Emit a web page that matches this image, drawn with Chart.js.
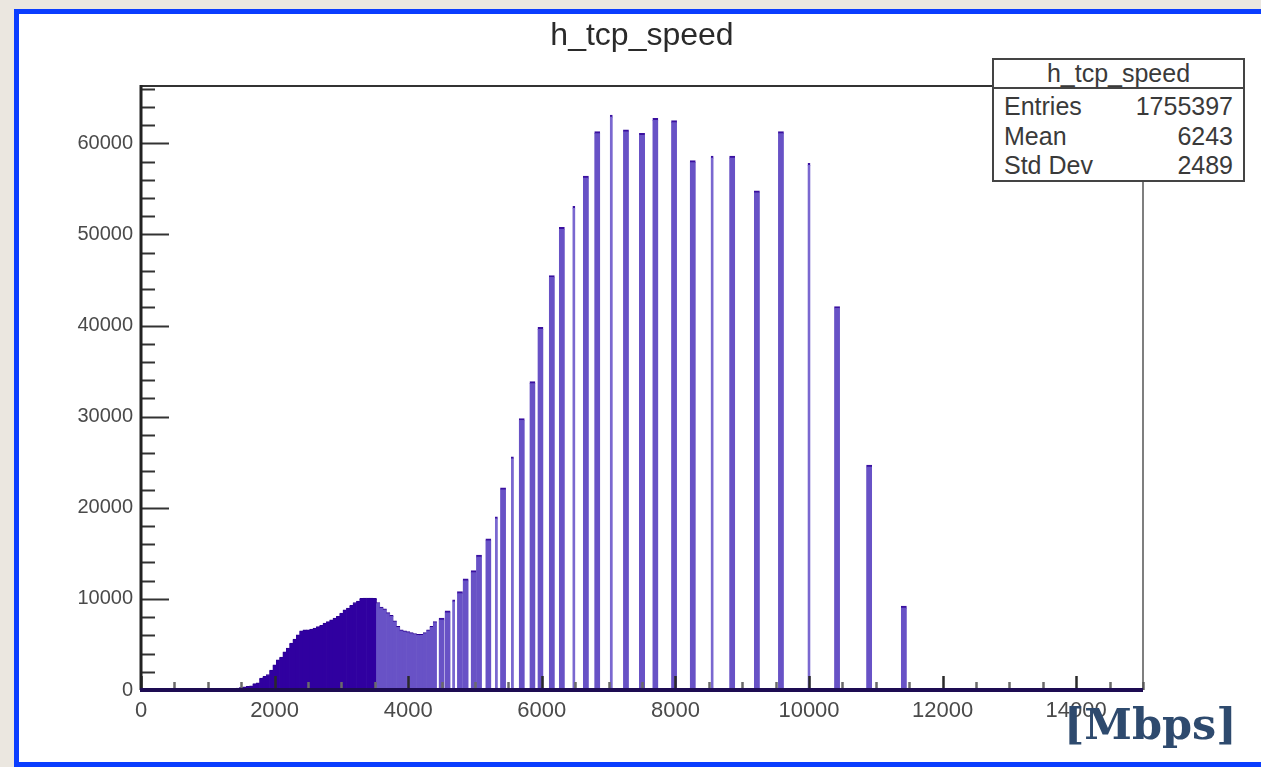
<!DOCTYPE html>
<html><head><meta charset="utf-8">
<script src="https://cdn.jsdelivr.net/npm/chart.js@4.4.1/dist/chart.umd.min.js"></script>
<style>
html,body{margin:0;padding:0}
body{width:1261px;height:767px;overflow:hidden;position:relative;background:#ebe7e0;font-family:"Liberation Sans",Arial,sans-serif}
#sheet{position:absolute;left:14px;top:9px;width:1300px;height:748px;background:#fff;border:5px solid #0a3dff;}
#wrap{position:absolute;left:0;top:0;width:1261px;height:767px}
#stats{position:absolute;left:992px;top:58px;width:253px;height:124px;box-sizing:border-box;border:2px solid #444;background:#fff;color:#3a3a3a;font-size:25px}
#stats .t{height:27px;line-height:27px;text-align:center;border-bottom:2px solid #444}
#stats .rows{padding-top:3px}
#stats .r{display:flex;justify-content:space-between;height:29.5px;line-height:29.5px;padding:0 10px}
#unit{position:absolute;left:1064px;top:694px;font-family:"DejaVu Serif",serif;font-weight:bold;font-size:43px;line-height:60px;color:#2e4a6e;white-space:nowrap}
</style></head>
<body>
<div id="sheet"></div>
<div id="wrap"><canvas id="c"></canvas></div>
<div id="stats">
  <div class="t">h_tcp_speed</div>
  <div class="rows">
    <div class="r"><span>Entries</span><span>1755397</span></div>
    <div class="r"><span>Mean</span><span>6243</span></div>
    <div class="r"><span>Std Dev</span><span>2489</span></div>
  </div>
</div>
<div id="unit">[Mbps]</div>
<script>
// ---- data (x in Mbps, y = entries) ----
const histTitle = 'h_tcp_speed';

// continuous region (50 Mbps bins)
const denseX = [1350,1400,1450,1500,1550,1600,1650,1700,1750,1800,1850,1900,1950,2000,2050,2100,2150,2200,2250,2300,2350,2400,2450,2500,2550,2600,2650,2700,2750,2800,2850,2900,2950,3000,3050,3100,3150,3200,3250,3300,3350,3400,3450,3500,3550,3600,3650,3700,3750,3800,3850,3900,3950,4000,4050,4100,4150,4200,4250,4300,4350,4400];
const denseY = [100,150,200,300,350,400,450,700,800,1300,1500,1700,2200,2750,3300,3600,4200,4600,5150,5600,6050,6500,6600,6600,6700,6800,6950,7100,7350,7500,7700,7900,8100,8450,8800,9000,9300,9600,9750,10050,10100,10100,10100,10050,9600,9100,8900,8500,8200,7600,7000,6600,6500,6400,6300,6200,6100,6100,6300,6600,7000,7500];

// wide spikes
const spikeX = [4500,4590,4775,4860,4980,5060,5200,5420,5700,5860,5980,6150,6300,6660,6830,7260,7500,7700,7980,8260,8850,9220,9580,10420,10900,11420];
const spikeY = [7900,8700,10800,12200,13100,14800,16600,22200,29800,33850,39800,45500,50800,56400,61300,61500,61100,62750,62500,58100,58600,54800,61300,42100,24700,9200];

// narrow spikes
const thinX = [4680,5320,5560,6480,7040,8550,10000];
const thinY = [9900,19000,25600,53100,63100,58600,57800];

// axis
const xMin = 0, xMax = 15000;
const yMin = 0, yMax = 66300;
const xTickLabels = [0,2000,4000,6000,8000,10000,12000,14000];
const yTickLabels = [0,10000,20000,30000,40000,50000,60000];

const toPts = (xs, ys) => xs.map((x, i) => ({x, y: ys[i]}));

const DARK = '#3000a0', LIGHT = '#6852c6', CAP = '#3a10a0';

const rootFrame = {
  id: 'rootFrame',
  afterDatasetsDraw(chart) {
    const {ctx, chartArea: a, scales: {x, y}} = chart;
    ctx.save();
    for (let v = xMin; v <= xMax; v += 500) {
      const px = Math.round(x.getPixelForValue(v)) + 0.5;
      const major = v % 2000 === 0;
      ctx.strokeStyle = major ? '#2a2a2a' : '#6a6a6a';
      ctx.lineWidth = 2.5;
      ctx.beginPath();
      ctx.moveTo(px, a.bottom);
      ctx.lineTo(px, a.bottom - (major ? 14 : 8));
      ctx.stroke();
    }
    for (let v = yMin; v <= yMax; v += 2000) {
      const py = Math.round(y.getPixelForValue(v)) + 0.5;
      const major = v % 10000 === 0;
      ctx.strokeStyle = '#333';
      ctx.lineWidth = 2;
      ctx.beginPath();
      ctx.moveTo(a.left, py);
      ctx.lineTo(a.left + (major ? 28 : 14), py);
      ctx.stroke();
    }
    ctx.strokeStyle = '#333'; ctx.lineWidth = 2;
    ctx.beginPath(); ctx.moveTo(a.left, a.top); ctx.lineTo(a.right, a.top); ctx.stroke();
    ctx.strokeStyle = '#555'; ctx.lineWidth = 1.5;
    ctx.beginPath(); ctx.moveTo(a.right, a.top); ctx.lineTo(a.right, a.bottom); ctx.stroke();
    ctx.strokeStyle = '#222'; ctx.lineWidth = 3;
    ctx.beginPath(); ctx.moveTo(a.left, a.top - 1); ctx.lineTo(a.left, a.bottom); ctx.stroke();
    ctx.strokeStyle = '#1d0c52'; ctx.lineWidth = 4;
    ctx.beginPath(); ctx.moveTo(a.left - 1, a.bottom); ctx.lineTo(a.right, a.bottom); ctx.stroke();
    ctx.restore();
  }
};

new Chart(document.getElementById('c'), {
  type: 'bar',
  data: {
    datasets: [
      {
        label: 'dense',
        data: toPts(denseX, denseY),
        barThickness: 4,
        grouped: false,
        backgroundColor: c => (c.raw && c.raw.x < 3550) ? DARK : LIGHT,
        borderColor: '#2a0090',
        borderWidth: {top: 1, right: 0, bottom: 0, left: 0}
      },
      {
        label: 'spikes',
        data: toPts(spikeX, spikeY),
        barThickness: 5.8,
        grouped: false,
        backgroundColor: LIGHT,
        borderColor: CAP,
        borderWidth: {top: 2, right: 0, bottom: 0, left: 0}
      },
      {
        label: 'thin',
        data: toPts(thinX, thinY),
        barThickness: 2.8,
        grouped: false,
        backgroundColor: '#7a68d0',
        borderColor: CAP,
        borderWidth: {top: 2, right: 0, bottom: 0, left: 0}
      }
    ]
  },
  options: {
    responsive: true,
    maintainAspectRatio: false,
    animation: false,
    layout: {padding: {top: 0, right: 118, bottom: 0, left: 0}},
    plugins: {
      legend: {display: false},
      tooltip: {enabled: false},
      title: {
        display: true,
        text: histTitle,
        fullSize: false,
        color: '#2a2a2a',
        font: {family: 'Liberation Sans', size: 32, weight: 'normal', lineHeight: 1.2},
        padding: {top: 17, bottom: 30.6}
      }
    },
    scales: {
      x: {
        type: 'linear',
        min: xMin, max: xMax,
        offset: false,
        grid: {display: false, drawTicks: false, offset: false},
        border: {display: false},
        afterBuildTicks: s => { s.ticks = xTickLabels.map(v => ({value: v})); },
        afterFit: s => { s.height = 77; },
        ticks: {
          padding: 8,
          maxRotation: 0,
          autoSkip: false,
          color: '#4a4a4a',
          font: {family: 'Liberation Sans', size: 22},
          callback: v => String(v)
        }
      },
      y: {
        min: yMin, max: yMax,
        grid: {display: false, drawTicks: false},
        border: {display: false},
        afterBuildTicks: s => { s.ticks = yTickLabels.map(v => ({value: v})); },
        afterFit: s => { s.width = 141; },
        ticks: {
          padding: 8,
          autoSkip: false,
          color: '#4a4a4a',
          font: {family: 'Liberation Sans', size: 20},
          callback: v => String(v)
        }
      }
    }
  },
  plugins: [rootFrame]
});
</script>
</body></html>
